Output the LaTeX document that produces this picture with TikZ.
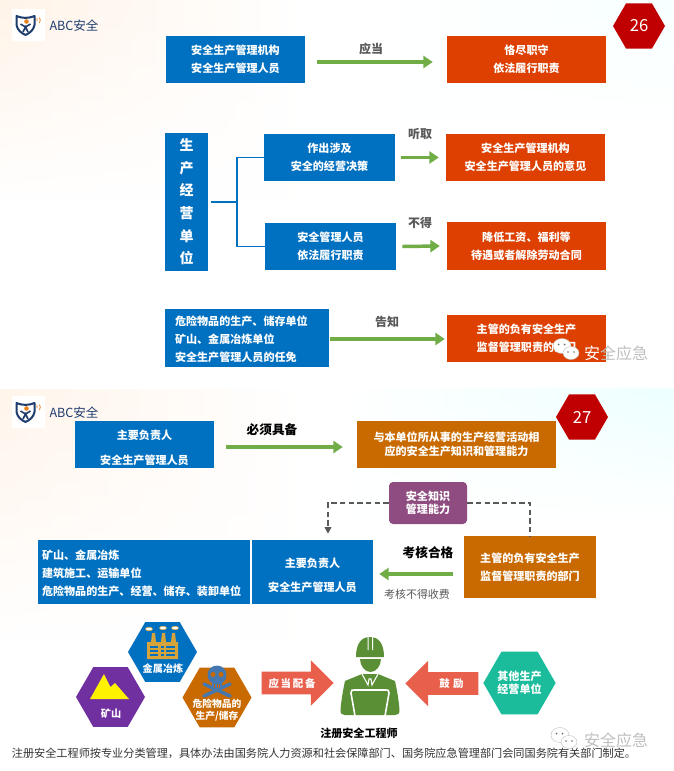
\documentclass[tikz,border=0pt]{standalone}
\usepackage{fontspec}
\setmainfont{Noto Sans CJK SC}
\usepackage{xcolor}
\usetikzlibrary{positioning, arrows.meta, calc, shapes.geometric, shapes.arrows, fadings}
\definecolor{boxblue}{RGB}{0,112,192}
\definecolor{boxred}{RGB}{221,64,0}
\definecolor{boxorange}{RGB}{201,106,0}
\definecolor{boxplum}{RGB}{142,76,128}
\definecolor{linegreen}{RGB}{112,173,71}
\definecolor{hexred}{RGB}{192,0,0}
\definecolor{hexpurple}{RGB}{112,48,160}
\definecolor{hexteal}{RGB}{26,188,156}
\definecolor{coral}{RGB}{232,96,76}
\definecolor{workergreen}{RGB}{90,143,53}
\definecolor{factorygold}{RGB}{214,164,58}
\definecolor{skullblue}{RGB}{70,120,176}
\definecolor{logonavy}{RGB}{31,60,110}
\definecolor{logoorange}{RGB}{232,130,30}
\definecolor{textgray}{RGB}{89,89,89}
\tikzset{
  boxsize/.style 2 args={minimum width=#1*0.75pt, minimum height=#2*0.75pt},
  flowbox/.style={rectangle, inner sep=0pt, text=white, align=center, font=\fontsize{8.3}{13.5}\selectfont\bfseries, execute at begin node=\rule{0pt}{8.8pt}},
  bluebox/.style={flowbox, fill=boxblue},
  redbox/.style={flowbox, fill=boxred},
  orangebox/.style={flowbox, fill=boxorange},
  hexshape/.style={regular polygon, regular polygon sides=6, inner sep=0pt, minimum size=#1*0.75pt},
  hexlabel/.style={text=white, align=center, inner sep=0pt, font=\fontsize{7.6}{9.2}\selectfont\bfseries},
  verb/.style={text=textgray, inner sep=0pt, font=\fontsize{9}{11}\selectfont\bfseries},
  verbdark/.style={text=black, inner sep=0pt, font=\fontsize{9.5}{11}\selectfont\bfseries},
  greenarrow/.style={draw=linegreen, line width=2.6pt, -{Triangle[length=7pt,width=9pt]}},
  dashline/.style={draw=textgray, line width=1pt, dash pattern=on 4pt off 2.5pt},
  blockarrow/.style={single arrow, fill=coral, inner sep=0pt, text=white, single arrow tip angle=90,
    single arrow head extend=8.6pt, single arrow head indent=0pt, text height=11.25pt, text depth=5.25pt,
    font=\fontsize{7.8}{9}\selectfont\bfseries},
  watermark/.style={text=black!25, inner sep=0pt, font=\fontsize{12}{14}\selectfont},
}
%Logo drawn at a vertical offset
\newcommand{\shieldlogo}[1]{%
  \begin{scope}[shift={(0,#1)}]
    \fill[white] (12,8.5) rectangle (45,40.5);
    \draw[logonavy, line width=1.5pt, line join=round] (16.5,16) .. controls (22,18.5) and (29,18.5) .. (34.5,16) -- (34.5,25) .. controls (33.5,30) and (30,33) .. (25.5,35) .. controls (21,33) and (17.5,30) .. (16.5,25) -- cycle;
    \draw[logonavy, line width=1.2pt] (20.5,24) -- (25.5,27) -- (30.5,24) (23,32) -- (25.5,27) -- (28,32);
    \fill[logoorange] (26.5,21.5) circle (2.3);
    \draw[logoorange, line width=0.6pt] (37,21) arc (30:-30:3) (39.5,23) arc (30:-30:5.5);
  \end{scope}}
%Chat bubbles of the watermark
\newcommand{\chatmark}[2]{%
  \begin{scope}[shift={(#1,#2)}]
    \fill[white, draw=black!25, line width=0.3pt] (0,0) ellipse (9 and 7.5);
    \fill[white, draw=black!25, line width=0.3pt] (9,7) ellipse (8 and 6.5);
    \fill[black!55] (-3.5,-1.5) circle (1) (2.5,-1.5) circle (1) (6,6) circle (0.8) (12,6) circle (0.8);
  \end{scope}}
\begin{document}
\begin{tikzpicture}[x=0.75pt,y=0.75pt,yscale=-1,xscale=1]
\useasboundingbox (0,0) rectangle (674,771);
%Backgrounds
\fill[white] (0,0) rectangle (674,771);
\shade[left color=orange!9, right color=white, path fading=south] (0,0) rectangle (300,200);
\shade[left color=white, right color=cyan!3, path fading=south] (380,0) rectangle (674,120);
\shade[left color=orange!8, right color=white, path fading=south] (0,389) rectangle (300,640);
\shade[left color=white, right color=cyan!7, path fading=south] (340,389) rectangle (674,520);

%Logos
\shieldlogo{0}
\shieldlogo{387}
\node[text=logonavy, inner sep=0pt, font=\fontsize{9.4}{11}\selectfont] (brandone) at (74,25.5) {ABC安全};
\node[text=logonavy, inner sep=0pt, font=\fontsize{9.4}{11}\selectfont] (brandtwo) at (74,413) {ABC安全};

%Page numbers
\node[hexshape=52, fill=hexred, text=white, font=\fontsize{12.5}{14}\selectfont] (pageone) at (639,26) {26};
\node[hexshape=52, fill=hexred, text=white, font=\fontsize{12.5}{14}\selectfont] (pagetwo) at (582,417) {27};

%First row
\node[bluebox, boxsize={139}{47}] (mgmt) at (235.5,59.5) {安全生产管理机构\\安全生产管理人员};
\node[redbox, boxsize={159}{47}] (duty) at (526.5,59.5) {恪尽职守\\依法履行职责};
\node[verb] (shall) at (371,49) {应当};
\draw[greenarrow] ($(mgmt.east)+(12,2.5)$) -- ($(duty.west)+(-14,2.5)$);

%Second group
\node[bluebox, boxsize={43}{138}, font=\fontsize{10.5}{17}\selectfont\bfseries] (unit) at (186.5,202) {生\\产\\经\\营\\单\\位};
\node[bluebox, boxsize={131}{47}] (decide) at (329.5,157.5) {作出涉及\\安全的经营决策};
\node[bluebox, boxsize={131}{47}] (staff) at (330.5,246.5) {安全管理人员\\依法履行职责};
\node[redbox, boxsize={159}{47}] (opinion) at (525.5,157.5) {安全生产管理机构\\安全生产管理人员的意见};
\node[redbox, boxsize={159}{48}] (wage) at (526.5,246) {降低工资、福利等\\待遇或者解除劳动合同};
\node[verb] (listen) at (420,134) {听取};
\node[verb] (forbid) at (420,223) {不得};
\draw[greenarrow] ($(decide.east)+(6,0)$) -- ($(opinion.west)+(-7,0)$);
\draw[greenarrow] ($(staff.east)+(6,0)$) -- ($(wage.west)+(-7,0)$);
%Bracket
\coordinate (fork) at (237,202);
\draw[boxblue, line width=1.1pt] ($(unit.east)+(3,0)$) -- (fork);
\draw[boxblue, line width=1.1pt] (decide.west) -| (fork) |- (staff.west);

%Third row
\node[bluebox, boxsize={164}{58}, align=left, text width=144*0.75pt] (hazard) at (247,338) {危险物品的生产、储存单位\\矿山、金属冶炼单位\\安全生产管理人员的任免};
\node[redbox, boxsize={159}{47}] (dept) at (526.5,338.5) {主管的负有安全生产\\监督管理职责的部门};
\node[verb] (inform) at (387,322) {告知};
\draw[greenarrow] ($(hazard.east)+(1,1)$) -- ($(dept.west)+(-2,0.5)$);

%Watermark one
\chatmark{562}{346}
\node[watermark] (markone) at (616,353) {{\color{white}安}全应急};

%Second slide: first row
\node[bluebox, boxsize={139}{47}, font=\fontsize{8.3}{18.75}\selectfont\bfseries] (head) at (144.5,444.5) {\rule{0pt}{11.8pt}主要负责人\\安全生产管理人员};
\node[orangebox, boxsize={199}{47}, font=\fontsize{8.3}{10.5}\selectfont\bfseries] (ability) at (456.5,444.5) {与本单位所从事的生产经营活动相\\应的安全生产知识和管理能力};
\node[verbdark] (must) at (272,430) {必须具备};
\draw[greenarrow] ($(head.east)+(12,2.5)$) -- ($(ability.west)+(-14,2.5)$);

%Second slide: exam
\node[rectangle, rounded corners=3pt, fill=boxplum, boxsize={78}{42}, inner sep=0pt, text=white, align=center, font=\fontsize{8.3}{9.75}\selectfont\bfseries] (skill) at (428,503) {安全知识\\管理能力};
\node[bluebox, boxsize={212}{64}, align=left, text width=204*0.75pt] (sector) at (144,572) {矿山、金属冶炼\\建筑施工、运输单位\\危险物品的生产、经营、储存、装卸单位};
\node[bluebox, boxsize={121}{64}, font=\fontsize{8.3}{18}\selectfont\bfseries] (leader) at (312.5,572) {\rule{0pt}{11.8pt}主要负责人\\安全生产管理人员};
\node[orangebox, boxsize={132}{62}] (exam) at (530,567) {主管的负有安全生产\\监督管理职责的部门};
\node[verbdark] (pass) at (428,553) {考核合格};
\node[text=textgray, inner sep=0pt, font=\fontsize{8.2}{10}\selectfont] (nofee) at (417,594) {考核不得收费};
\draw[greenarrow] ($(exam.west)+(-11,7)$) -- ($(leader.east)+(6,2)$);
\draw[dashline, -{Triangle[length=5pt,width=5pt]}] (skill.west) -| ($(leader.north)+(15.5,-6)$);
\draw[dashline] (skill.east) -| (exam.north);

%Hexagons
\node[hexshape=69, fill=boxblue] (metal) at (162.5,652) {};
\node[hexshape=69, fill=hexpurple] (mine) at (110.5,697) {};
\node[hexshape=69, fill=boxorange] (danger) at (217,697.5) {};
\node[hexshape=69, fill=hexteal, text=white, align=center, font=\fontsize{8.3}{10}\selectfont\bfseries] (other) at (519.5,683) {其他生产\\经营单位};

%Factory
\fill[white] (149,629) ellipse (3.5 and 1.8) (163,628) ellipse (3.5 and 1.8) (175,628) ellipse (3.5 and 1.8);
\draw[factorygold, line width=0.4pt] (149,629) ellipse (3.5 and 1.8) (163,628) ellipse (3.5 and 1.8) (175,628) ellipse (3.5 and 1.8);
\fill[factorygold] (147,642) -- (151,642) -- (152,633) -- (155,633) -- (156,642) -- (161,642) -- (162,633) -- (165,633) -- (166,642) -- (171,642) -- (172,633) -- (175,633) -- (176,642) -- (178,642) -- (178,659) -- (147,659) -- cycle;
\draw[boxblue, line width=0.9pt] (150,647) -- (158,647) (150,651) -- (158,651) (150,655) -- (158,655) (166,647) -- (175,647) (166,651) -- (175,651) (166,655) -- (175,655) (161,647) -- (164,647) (161,651) -- (164,651) (161,655) -- (164,655);
\node[hexlabel] (metaltext) at (163,669) {金属冶炼};

%Mountain
\fill[yellow] (90,699) -- (104,674) -- (110.5,687) -- (115,683) -- (129,699) -- cycle;
\node[hexlabel] (minetext) at (111,714) {矿山};

%Skull
\draw[skullblue, line width=2.6pt, line cap=round] (204,684) -- (230,696) (230,684) -- (204,696);
\fill[skullblue] (217,675) circle (9.5);
\fill[skullblue] (212,680) rectangle (222,688);
\fill[boxorange] (213,674.5) circle (2.5) (221,674.5) circle (2.5);
\draw[boxorange, line width=0.6pt] (214.5,684) -- (214.5,688) (217,684) -- (217,688) (219.5,684) -- (219.5,688);
\node[hexlabel, font=\fontsize{7.3}{9.2}\selectfont\bfseries] (dangertext) at (217,710) {危险物品的\\生产/储存};

%Block arrows
\node[blockarrow, minimum height=72*0.75pt] (equip) at (292,683) {应\,当\,配\,备\hspace{6pt}};
\node[blockarrow, shape border rotate=180, minimum height=73*0.75pt] (encourage) at (447.5,683.5) {\hspace{6pt}鼓\,\,励};

%Worker
\fill[workergreen] (356,657) .. controls (356,644) and (361,637) .. (370,637) .. controls (379,637) and (384,644) .. (384,657) -- cycle;
\fill[white] (367.5,637) rectangle (368.5,650) (372,637) rectangle (373,650);
\fill[workergreen] (360,659) -- (381,659) .. controls (381,666) and (376,672) .. (370.5,672) .. controls (365,672) and (360,666) .. (360,659) -- cycle;
\fill[workergreen] (362,674) -- (345,681) .. controls (343,690) and (341,702) .. (340.5,710) .. controls (340.5,714) and (342,715) .. (345,715) -- (395,715) .. controls (398,715) and (399.5,714) .. (399.5,710) .. controls (399,702) and (397,690) .. (395,681) -- (378,674) -- cycle;
\draw[white, line width=0.8pt] (362,674) -- (368,685) -- (369,679) -- (371,679) -- (372,685) -- (378,674);
\draw[white, line width=1.2pt] (355,716) -- (351,693) .. controls (351,690) and (352,690) .. (354,690) -- (386,690) .. controls (388,690) and (389,690) .. (389,693) -- (385,716);
\node[inner sep=0pt, text=black, font=\fontsize{8.3}{10}\selectfont\bfseries] (engineer) at (359,733) {注册安全工程师};

%Footer
\node[inner sep=0pt, text=black!80, font=\fontsize{8.36}{10}\selectfont] (footer) at (324,753) {注册安全工程师按专业分类管理，具体办法由国务院人力资源和社会保障部门、国务院应急管理部门会同国务院有关部门制定。};

%Watermark two
\chatmark{560}{735}
\node[watermark] (marktwo) at (616,740) {安全应急};
\end{tikzpicture}
\end{document}
